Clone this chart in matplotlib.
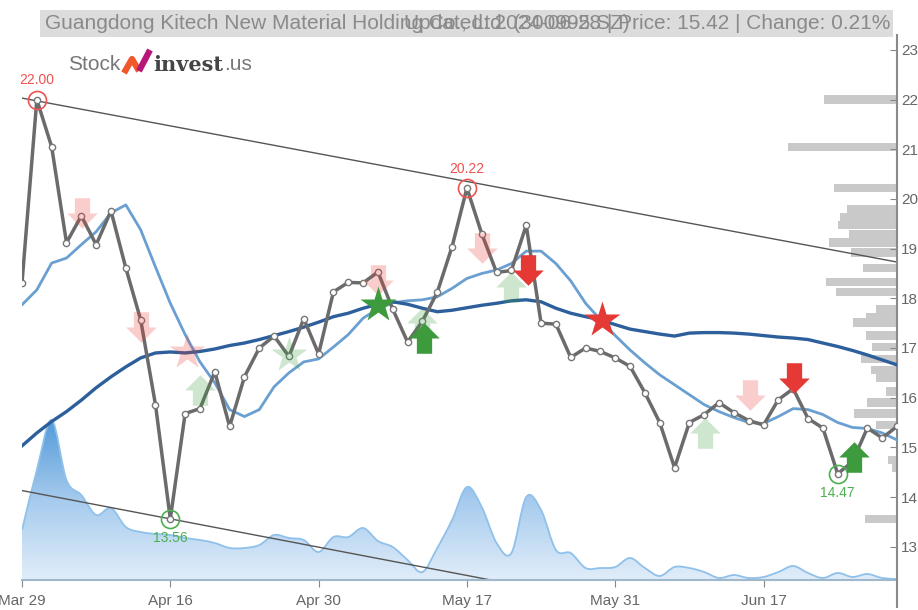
import numpy as np
import matplotlib.pyplot as plt
from matplotlib.path import Path
from matplotlib.patches import PathPatch, Rectangle
from matplotlib.lines import Line2D
from matplotlib.colors import LinearSegmentedColormap

plt.rcParams['font.family'] = ['Liberation Sans Narrow', 'Liberation Sans', 'DejaVu Sans']

# ---- data ----
date_labels = ['Mar 29', 'Apr 16', 'Apr 30', 'May 17', 'May 31', 'Jun 17']
date_idx = [0, 10, 20, 30, 40, 50]

price = [18.31, 22.00, 21.05, 19.12, 19.66, 19.08, 19.76, 18.61, 17.57, 15.86,
         13.56, 15.68, 15.78, 16.52, 15.42, 16.42, 17.00, 17.24, 16.83, 17.59,
         16.88, 18.13, 18.32, 18.31, 18.53, 17.78, 17.12, 17.54, 18.12, 19.04,
         20.22, 19.30, 18.52, 18.56, 19.47, 17.50, 17.48, 16.81, 17.00, 16.93,
         16.80, 16.63, 16.10, 15.50, 14.59, 15.50, 15.66, 15.90, 15.70, 15.54,
         15.45, 15.96, 16.18, 15.58, 15.39, 14.47, 14.71, 15.39, 15.19, 15.42]

ma_short = [17.87, 18.17, 18.71, 18.81, 19.08, 19.34, 19.72, 19.88, 19.38, 18.63,
            17.90, 17.27, 16.72, 16.30, 15.76, 15.62, 15.76, 16.22, 16.50, 16.72,
            16.78, 17.02, 17.27, 17.60, 17.79, 17.91, 17.95, 17.97, 18.03, 18.20,
            18.40, 18.50, 18.57, 18.70, 18.95, 18.95, 18.70, 18.35, 17.90, 17.57,
            17.25, 16.96, 16.70, 16.46, 16.26, 16.06, 15.86, 15.72, 15.60, 15.50,
            15.48, 15.62, 15.78, 15.76, 15.66, 15.50, 15.40, 15.38, 15.29, 15.15]

ma_long = [15.03, 15.29, 15.52, 15.72, 15.95, 16.20, 16.42, 16.62, 16.80, 16.90,
           16.92, 16.90, 16.93, 16.98, 17.05, 17.10, 17.17, 17.25, 17.33, 17.42,
           17.52, 17.63, 17.70, 17.80, 17.88, 17.93, 17.88, 17.80, 17.73, 17.76,
           17.81, 17.86, 17.90, 17.95, 17.97, 17.93, 17.80, 17.70, 17.63, 17.57,
           17.47, 17.38, 17.33, 17.28, 17.24, 17.30, 17.31, 17.31, 17.30, 17.28,
           17.25, 17.22, 17.20, 17.17, 17.10, 17.03, 16.95, 16.86, 16.76, 16.66]

volume = [50, 110, 160, 100, 85, 65, 72, 53, 48, 46,
          45, 42, 40, 37, 32, 32, 35, 45, 42, 40,
          28, 43, 43, 52, 39, 33, 20, 8, 32, 60,
          93, 73, 37, 27, 83, 70, 30, 27, 12, 12,
          13, 22, 12, 4, 13, 12, 8, 2, 5, 2,
          3, 8, 14, 7, 2, 7, 3, 6, 2, 1]

vp_price = [22.00, 21.05, 20.22, 19.80, 19.64, 19.48, 19.28, 19.12, 18.92, 18.61,
            18.33, 18.13, 17.79, 17.61, 17.51, 17.25, 17.02, 16.78, 16.56, 16.40,
            16.12, 15.90, 15.68, 15.45, 14.75, 14.59, 13.56]
vp_size = [73, 109, 63, 50, 57, 59, 48, 68, 46, 34,
           71, 61, 21, 31, 44, 31, 25, 36, 26, 21,
           11, 30, 43, 21, 9, 5, 32]

peaks_idx = [1, 30]
troughs_idx = [10, 55]

upper_trend = [22.03, 18.73]   # value at first and last day
lower_trend = [14.13, 10.77]

sig_idx = [4.05, 8.0, 11.1, 12.0, 18.0, 24.0, 24.0, 27.0, 27.1, 31.0, 33.0, 34.1, 39.1, 46.05, 49.1, 52.05, 56.1]
sig_val = [19.72, 17.43, 16.92, 16.16, 16.86, 18.37, 17.87, 17.50, 17.20, 19.02, 18.23, 18.57, 17.57, 15.29, 16.06, 16.40, 14.81]
sig_shape = ['down', 'down', 'star', 'up', 'star', 'down', 'star', 'up', 'up', 'down', 'up', 'down', 'star', 'up', 'down', 'down', 'up']
sig_side = ['sell', 'sell', 'sell', 'buy', 'buy', 'sell', 'buy', 'buy', 'buy', 'sell', 'buy', 'sell', 'sell', 'buy', 'sell', 'sell', 'buy']
sig_strong = [False, False, False, False, False, False, True, False, True, False, False, True, True, False, False, True, True]

title_left = 'Guangdong Kitech New Material Holding Co., Ltd. (300995.SZ)'
title_right = 'Updated: 2024-06-28 | Price: 15.42 | Change: 0.21%'

x = np.arange(len(price))
ylo, yhi = 12.33, 23.3

fig = plt.figure(figsize=(9.18, 6.10), dpi=100)
pos = [22 / 918, 30 / 610, 875 / 918, 545 / 610]

# volume area (bottom layer)
axv = fig.add_axes(pos, zorder=0)
axv.set_xlim(0, len(x) - 1)
axv.set_ylim(0, 545)
axv.axis('off')


def smooth(xs, ys):
    n = len(xs)
    verts = [(xs[0], ys[0])]
    codes = [Path.MOVETO]
    for i in range(n - 1):
        a = max(i - 1, 0)
        d = min(i + 2, n - 1)
        c1 = (xs[i] + (xs[i + 1] - xs[a]) / 6, ys[i] + (ys[i + 1] - ys[a]) / 6)
        c2 = (xs[i + 1] - (xs[d] - xs[i]) / 6, ys[i + 1] - (ys[d] - ys[i]) / 6)
        verts += [c1, c2, (xs[i + 1], ys[i + 1])]
        codes += [Path.CURVE4] * 3
    return verts, codes


vv, vc = smooth(x, volume)
fill = Path(vv + [(x[-1], 0), (x[0], 0), (x[0], volume[0])],
            vc + [Path.LINETO, Path.LINETO, Path.CLOSEPOLY])
patch = PathPatch(fill, facecolor='none', edgecolor='none')
axv.add_patch(patch)
grad = np.linspace(0, 1, 256).reshape(-1, 1)
cmap = LinearSegmentedColormap.from_list('vol', ['#e1edf9', '#a6cbee', '#549bd8'])
im = axv.imshow(grad, cmap=cmap, origin='lower', aspect='auto',
                extent=[0, len(x) - 1, 0, max(volume)], zorder=1)
im.set_clip_path(patch)
axv.add_patch(PathPatch(Path(vv, vc), facecolor='none', edgecolor='#8fc1ea', lw=1.3, zorder=2))

# volume profile
axp = fig.add_axes(pos, zorder=0.5)
axp.patch.set_alpha(0)
axp.barh(vp_price, vp_size, height=0.17, color='#c9c9c9')
axp.set_xlim(875, 0)
axp.set_ylim(ylo, yhi)
axp.axis('off')

# main price axes
ax = fig.add_axes(pos, zorder=1)
ax.patch.set_alpha(0)
ax.set_xlim(0, len(x) - 1)
ax.set_ylim(ylo, yhi)

ax.plot([0, len(x) - 1], upper_trend, color='#555555', lw=1, zorder=2)
ax.plot([0, len(x) - 1], lower_trend, color='#555555', lw=1, zorder=2)
ax.plot(x, ma_short, color='#6a9fd1', lw=2, zorder=3)
ax.plot(x, ma_long, color='#2c5f9b', lw=2.4, zorder=3)
ax.plot(x, price, color='#6b6b6b', lw=2.5, marker='o', ms=4.5,
        mfc='white', mec='#777777', mew=1, zorder=4)

for i in peaks_idx:
    ax.plot(i, price[i], 'o', ms=13, mfc='none', mec='#ef5350', mew=1.2, zorder=5)
    ax.annotate(f'{price[i]:.2f}', (i, price[i]), xytext=(0, 9), textcoords='offset points',
                ha='center', va='bottom', color='#ef5350', fontsize=10, zorder=5)
for i in troughs_idx:
    ax.plot(i, price[i], 'o', ms=13, mfc='none', mec='#4caf50', mew=1.2, zorder=5)
    ax.annotate(f'{price[i]:.2f}', (i, price[i]), xytext=(0, -9), textcoords='offset points',
                ha='center', va='top', color='#4caf50', fontsize=10, zorder=5)

down = Path([(-0.25, 0.5), (0.25, 0.5), (0.25, 0.0), (0.5, 0.0), (0, -0.5), (-0.5, 0.0),
             (-0.25, 0.0), (-0.25, 0.5)],
            [Path.MOVETO] + [Path.LINETO] * 6 + [Path.CLOSEPOLY])
up = Path([(vx, -vy) for vx, vy in down.vertices], down.codes)
shapes = {'down': down, 'up': up, 'star': '*'}
colors = {'sell': '#e53935', 'buy': '#3d9a3d'}
for xi, yi, sh, sd, st in zip(sig_idx, sig_val, sig_shape, sig_side, sig_strong):
    ms = 27 if sh == 'star' else 22
    ax.plot(xi, yi, marker=shapes[sh], ms=ms, color=colors[sd], mec='none',
            alpha=1 if st else 0.25, zorder=6 if st else 4.5)

ax.yaxis.tick_right()
ax.set_yticks(range(13, 24))
ax.tick_params(axis='y', direction='in', length=5, colors='#888888', labelcolor='#666666',
               labelsize=11, pad=3)
ax.set_xticks(date_idx)
ax.set_xticklabels(date_labels)
ax.tick_params(axis='x', direction='out', length=5, colors='#888888', labelcolor='#666666',
               labelsize=11, pad=5)
for s in ['top', 'left']:
    ax.spines[s].set_visible(False)
ax.spines['right'].set_color('#8a8a8a')
ax.spines['right'].set_linewidth(1.5)
ax.spines['bottom'].set_color('#9fb8cc')
ax.spines['bottom'].set_linewidth(1.5)
# right axis line runs a little below the date axis
fig.add_artist(Line2D([897 / 918, 897 / 918], [3 / 610, 30 / 610], transform=fig.transFigure,
                      color='#8a8a8a', lw=1.5))

# title banner
fig.add_artist(Rectangle((40 / 918, 1 - 37 / 610), 853 / 918, 27 / 610,
                         transform=fig.transFigure, facecolor='#dcdcdc', edgecolor='none'))
fig.text(45 / 918, 1 - 23.5 / 610, title_left, ha='left', va='center', fontsize=15, color='#8a8a8a')
fig.text(890 / 918, 1 - 23.5 / 610, title_right, ha='right', va='center', fontsize=15, color='#8a8a8a')

# logo
fig.text(68 / 918, 1 - 65 / 610, 'Stock', ha='left', va='center', fontsize=15, color='#777777',
         family=['Liberation Sans', 'DejaVu Sans'])
fig.add_artist(Line2D([124 / 918, 132 / 918, 139 / 918], [1 - 73 / 610, 1 - 59 / 610, 1 - 71 / 610],
                      transform=fig.transFigure, color='#f0582c', lw=4.5, solid_capstyle='butt'))
fig.add_artist(Line2D([139 / 918, 150 / 918], [1 - 71 / 610, 1 - 50 / 610],
                      transform=fig.transFigure, color='#b8177a', lw=4.5, solid_capstyle='butt'))
fig.text(153 / 918, 1 - 65 / 610, 'invest', ha='left', va='center', fontsize=15, color='#444444',
         fontweight='bold', family=['DejaVu Serif'])
fig.text(224 / 918, 1 - 65 / 610, '.us', ha='left', va='center', fontsize=15, color='#777777',
         family=['Liberation Sans', 'DejaVu Sans'])

fig.savefig('out.png', dpi=100)
